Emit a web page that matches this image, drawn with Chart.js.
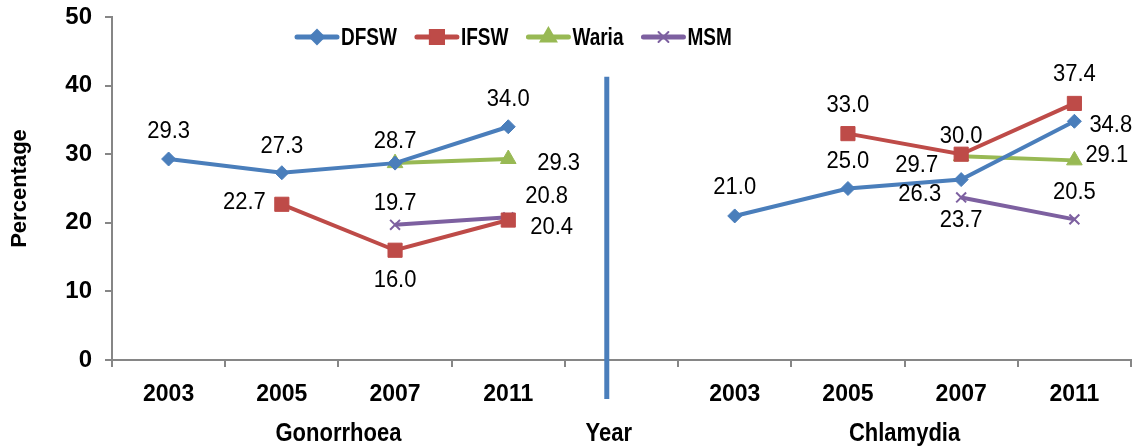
<!DOCTYPE html>
<html>
<head>
<meta charset="utf-8">
<script src="https://cdn.jsdelivr.net/npm/chart.js@4/dist/chart.umd.min.js"></script>
<style>
  html, body { margin: 0; padding: 0; background: #fff; }
  #wrap { width: 1142px; height: 448px; }
</style>
</head>
<body>
<div id="wrap"><canvas id="chart" width="1142" height="448"></canvas></div>
<script>
// categories: Gonorrhoea years, a spacer, Chlamydia years
const years = ['2003', '2005', '2007', '2011', '', '2003', '2005', '2007', '2011'];
const yTicks = [0, 10, 20, 30, 40, 50];

const dfsw  = [29.3, 27.3, 28.7, 34.0, null, 21.0, 25.0, 26.3, 34.8];
const ifsw  = [null, 22.7, 16.0, 20.4, null, null, 33.0, 30.0, 37.4];
const waria = [null, null, 28.7, 29.3, null, null, null, 29.7, 29.1];
const msm   = [null, null, 19.7, 20.8, null, null, null, 23.7, 20.5];

// where each value label sits relative to its point [dx, dy]; null = no label
const dfswLbl  = [[0,-27],[0,-26],[0,-21],[0,-27],null,[0,-28],[0,-27],[-20,15],[15,4]];
const ifswLbl  = [null,[-16,-2],[0,30],[22,8],null,null,[0,-28],[0,-18],[0,-29]];
const wariaLbl = [null,null,null,[29,5],null,null,null,[-23,9],[11,-5]];
const msmLbl   = [null,null,[0,-21],[17,-21],null,null,null,[0,23],[0,-27]];

const FONT = "'Liberation Sans', Arial, sans-serif";
const AXIS = '#868686';

const series = [
  { label: 'DFSW',  data: dfsw,  color: '#4a7ebb', style: 'rectRot',  r: 7,   lbl: dfswLbl },
  { label: 'IFSW',  data: ifsw,  color: '#be4b48', style: 'rect',     r: 10,  lbl: ifswLbl },
  { label: 'Waria', data: waria, color: '#98b954', style: 'triangle', r: 9,   lbl: wariaLbl },
  { label: 'MSM',   data: msm,   color: '#7d60a0', style: 'crossRot', r: 7,   lbl: msmLbl }
];

// text drawn a little taller than wide, like the original
function tallText(c, text, x, y, sy) {
  c.save();
  c.translate(x, y);
  c.scale(1, sy);
  c.fillText(text, 0, 0);
  c.restore();
}

// value labels
const valueLabels = {
  id: 'valueLabels',
  afterDatasetsDraw(chart) {
    const c = chart.ctx;
    c.save();
    c.font = '22px ' + FONT;
    c.fillStyle = '#000';
    c.textBaseline = 'middle';
    chart.data.datasets.forEach((ds, i) => {
      const meta = chart.getDatasetMeta(i);
      ds.data.forEach((v, j) => {
        const off = series[i].lbl[j];
        if (v == null || !off) return;
        const pt = meta.data[j];
        c.textAlign = off[0] > 5 ? 'left' : off[0] < -5 ? 'right' : 'center';
        tallText(c, v.toFixed(1), pt.x + off[0], pt.y + off[1], 1.05);
      });
    });
    c.restore();
  }
};

// separator line, legend and bottom titles
const extras = {
  id: 'extras',
  afterDraw(chart) {
    const c = chart.ctx;
    const x = chart.scales.x, y = chart.scales.y;
    const band = x.getPixelForValue(1) - x.getPixelForValue(0);

    // vertical divider between the two panels
    const sx = x.getPixelForValue(4) - band * 0.13;
    c.save();
    c.strokeStyle = '#4a7ebb';
    c.lineWidth = 5;
    c.beginPath();
    c.moveTo(sx, y.getPixelForValue(41.3));
    c.lineTo(sx, chart.chartArea.bottom + 39);
    c.stroke();

    // bottom titles
    c.font = 'bold 22px ' + FONT;
    c.fillStyle = '#000';
    c.textAlign = 'center';
    c.textBaseline = 'alphabetic';
    tallText(c, 'Gonorrhoea', (x.getPixelForValue(1) + x.getPixelForValue(2)) / 2, 441, 1.2);
    tallText(c, 'Year', sx + 2, 441, 1.2);
    tallText(c, 'Chlamydia', (x.getPixelForValue(6) + x.getPixelForValue(7)) / 2, 441, 1.2);

    // legend
    let lx = 297;
    const ly = 37;
    c.font = 'bold 19px ' + FONT;
    c.textAlign = 'left';
    c.textBaseline = 'middle';
    series.forEach(s => {
      c.strokeStyle = s.color;
      c.lineWidth = 5;
      c.lineCap = 'round';
      c.beginPath();
      c.moveTo(lx, ly);
      c.lineTo(lx + 40, ly);
      c.stroke();
      c.fillStyle = s.color;
      c.lineWidth = 2;
      Chart.helpers.drawPoint(c, { pointStyle: s.style, radius: s.r, borderWidth: 2, rotation: 0 }, lx + 20, ly);
      c.fillStyle = '#000';
      tallText(c, s.label, lx + 44, ly + 1, 1.25);
      lx += 44 + c.measureText(s.label).width + 20;
    });
    c.restore();
  }
};

new Chart(document.getElementById('chart'), {
  type: 'line',
  data: {
    labels: years,
    datasets: series.map(s => ({
      label: s.label,
      data: s.data,
      borderColor: s.color,
      backgroundColor: s.color,
      borderWidth: 4,
      pointStyle: s.style,
      pointRadius: s.r,
      pointBorderWidth: s.style === 'crossRot' ? 2 : 1,
      pointBackgroundColor: s.color,
      pointBorderColor: s.color,
      tension: 0,
      spanGaps: false
    }))
  },
  options: {
    responsive: false,
    animation: false,
    layout: { padding: { top: 17, right: 6, left: 0, bottom: 0 } },
    plugins: { legend: { display: false }, tooltip: { enabled: false } },
    scales: {
      x: {
        offset: true,
        grid: { offset: true, drawOnChartArea: false, color: AXIS, lineWidth: 2, tickLength: 7 },
        border: { color: AXIS, width: 2 },
        ticks: { color: '#000', font: { family: FONT, size: 23, weight: 'bold' }, padding: 14, maxRotation: 0, autoSkip: false },
        afterFit: s => { s.height = 88; }
      },
      y: {
        min: 0,
        max: 50,
        afterBuildTicks: s => { s.ticks = yTicks.map(v => ({ value: v })); },
        grid: { drawOnChartArea: false, color: AXIS, lineWidth: 2, tickLength: 7 },
        border: { color: AXIS, width: 2 },
        ticks: { color: '#000', font: { family: FONT, size: 24, weight: 'bold' }, padding: 13 },
        title: { display: true, text: 'Percentage', color: '#000', font: { family: FONT, size: 22, weight: 'bold' }, padding: { top: 7, bottom: 0 } },
        afterFit: s => { s.width = 112; s.paddingTop = 0; s.paddingBottom = 0; }
      }
    }
  },
  plugins: [valueLabels, extras]
});
</script>
</body>
</html>
